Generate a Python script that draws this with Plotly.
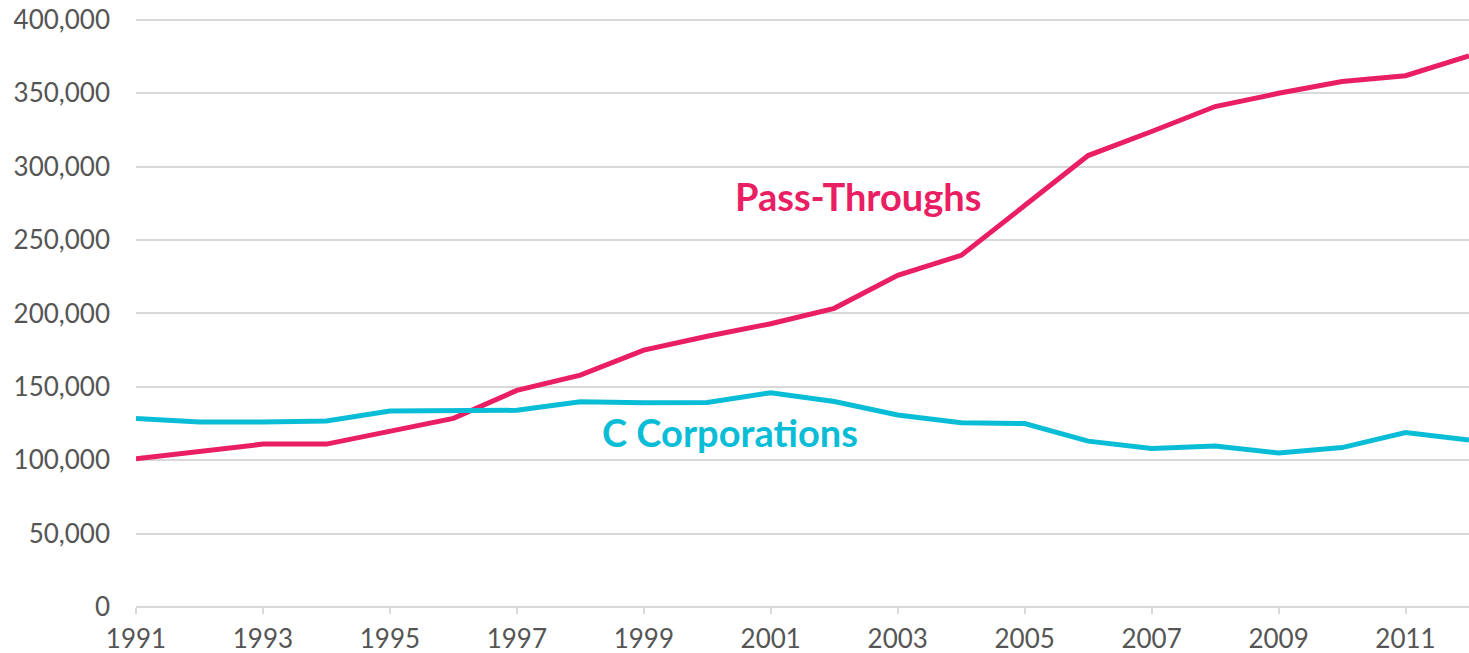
import plotly.graph_objects as go

years = list(range(1991, 2013))
pass_throughs = [101000, 106000, 111000, 111000, 120000, 128500, 147600, 158000, 175000, 184500,
                 193000, 203500, 226000, 239600, 273500, 307600, 324000, 341000, 350000, 358000,
                 362000, 375500]
c_corporations = [128500, 126000, 126000, 126700, 133500, 133500, 134000, 139900, 139200, 139400,
                  146000, 140000, 130800, 125600, 125000, 113000, 108000, 109700, 105000, 108600,
                  118800, 113800]
series_names = ["Pass-Throughs", "C Corporations"]
colors = ["#E91E63", "#0ABDD6"]
y_ticks = [0, 50000, 100000, 150000, 200000, 250000, 300000, 350000, 400000]
x_ticks = list(range(1991, 2013, 2))

fig = go.Figure()
for name, vals, col in zip(series_names, [pass_throughs, c_corporations], colors):
    fig.add_trace(go.Scatter(x=years, y=vals, mode="lines", name=name,
                             line=dict(color=col, width=5), cliponaxis=True))

fig.add_annotation(x=2002.37, y=280000, text="<b>Pass-Throughs</b>", showarrow=False,
                   font=dict(family="Lato", size=38, color=colors[0]))
fig.add_annotation(x=2000.36, y=119500, text="<b>C Corporations</b>", showarrow=False,
                   font=dict(family="Lato", size=38, color=colors[1]))

fig.update_layout(
    width=1469, height=653,
    margin=dict(l=136, r=0, t=17, b=46, autoexpand=False),
    plot_bgcolor="white", paper_bgcolor="white",
    showlegend=False,
    font=dict(family="Lato", size=26, color="#555555"),
)
fig.update_xaxes(range=[1991, 2012], tickvals=x_ticks, showgrid=False, zeroline=False,
                 showline=False, ticks="outside", ticklen=6, tickcolor="#d9d9d9", tickwidth=2,
                 ticklabelstandoff=3, ticklabeloverflow="allow", automargin=False,
                 tickfont=dict(size=26, color="#555555"))
fig.update_yaxes(range=[0, 402000], tickvals=y_ticks, tickformat=",", showgrid=True,
                 gridcolor="#d9d9d9", gridwidth=1.5, zeroline=True, zerolinecolor="#d9d9d9",
                 zerolinewidth=2, ticklabelstandoff=25, ticklabeloverflow="allow", automargin=False,
                 tickfont=dict(size=26, color="#555555"))

fig.write_html("out.html", config={"displayModeBar": False},
               post_script="document.body.style.margin='0';document.body.style.overflow='hidden';")
